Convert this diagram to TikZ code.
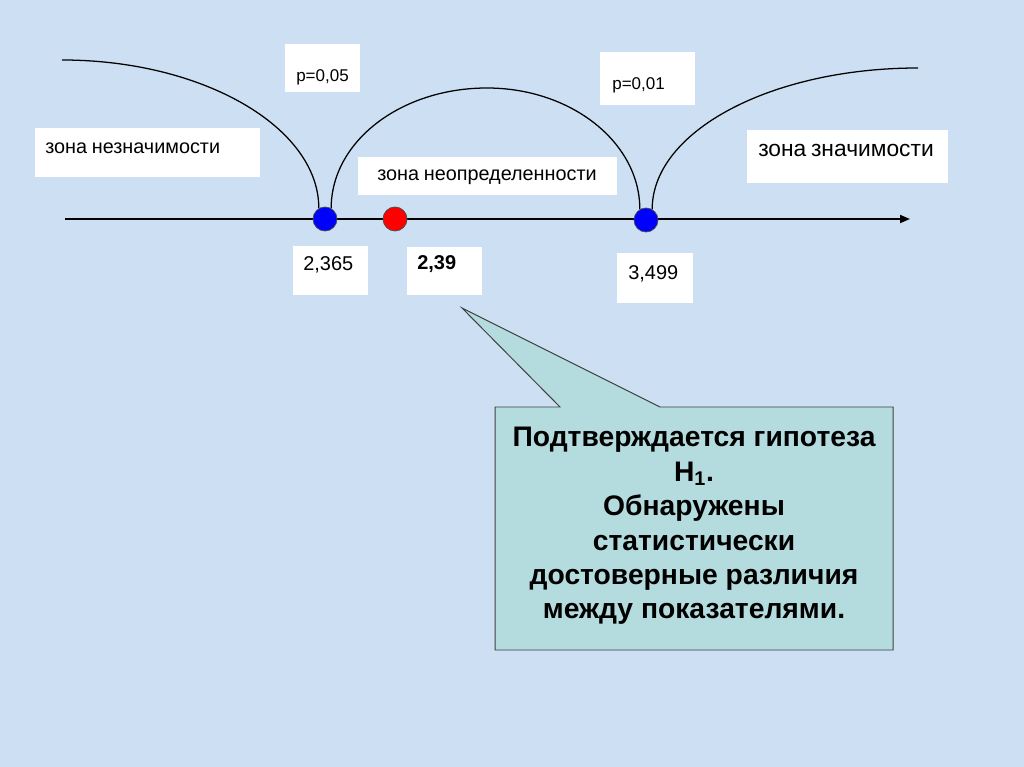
\documentclass[tikz,border=0pt]{standalone}
\usepackage{fontspec}
\setmainfont{Liberation Sans}
\usetikzlibrary{arrows.meta}
\definecolor{bgblue}{RGB}{205,224,243}
\definecolor{callfill}{RGB}{180,220,222}
\newcommand\smallfont{\fontsize{12.1}{14}\selectfont}
\newcommand\zonefont{\fontsize{14.1}{17}\selectfont}
\newcommand\bigzonefont{\fontsize{16.2}{19}\selectfont}
\newcommand\numfont{\fontsize{14.2}{17}\selectfont}
\begin{document}
\begin{tikzpicture}[x=0.025cm,y=-0.025cm,
  lbl/.style={fill=white,anchor=north west,inner ysep=0pt,align=left},
  dot/.style={circle,draw=black!70,fill=#1,minimum size=0.6cm,inner sep=0pt,line width=0.5pt}]
\fill[bgblue] (0,0) rectangle (1024,767);
\useasboundingbox (0,0) rectangle (1024,767);

% axis
\coordinate (axL) at (65,219);
\coordinate (axR) at (910,219);
\draw[line width=1.3pt,-{Triangle[length=0.25cm,width=0.2cm]}] (axL) -- (axR);

\node[dot=blue] (d1) at (325,219) {};
\node[dot=red] (d2) at (395,219) {};
\node[dot=blue] (d3) at (646,220) {};

% zone arcs
\coordinate (c1) at (62,60);
\coordinate (arcTop) at (487,88);
\coordinate (c2) at (918,68);
\draw[line width=0.9pt] (c1) .. controls +(141,0) and +(0,-81) .. (d1.120);
\draw[line width=0.9pt] (d1.60) .. controls +(0,-67) and +(-86,0) .. (arcTop)
  .. controls +(84,0) and +(0,-67) .. (d3.120);
\draw[line width=0.9pt] (d3.60) .. controls +(0,-78) and +(-147,0) .. (c2);

% labels
\node[lbl,inner xsep=0.275cm,text width=1.325cm,text height=0.925cm,text depth=0.275cm] (p05) at (285,44) {\smallfont p=0,05};
\node[lbl,inner xsep=0.3cm,text width=1.775cm,text height=0.925cm,text depth=0.4cm] (p01) at (600,52) {\smallfont p=0,01};
\node[lbl,inner xsep=0.25cm,text width=5.125cm,text height=0.625cm,text depth=0.6cm] (zn1) at (35,128) {\zonefont зона незначимости};
\node[lbl,inner xsep=0.475cm,text width=5.525cm,text height=0.575cm,text depth=0.375cm] (zn2) at (358,157) {\zonefont зона неопределенности};
\node[lbl,inner xsep=0.275cm,text width=4.475cm,text height=0.65cm,text depth=0.675cm] (zn3) at (747,130) {\bigzonefont зона значимости};
\node[lbl,inner xsep=0.25cm,text width=1.375cm,text height=0.6cm,text depth=0.625cm] (n1) at (293,246) {\numfont 2,365};
\node[lbl,inner xsep=0.25cm,text width=1.375cm,text height=0.55cm,text depth=0.65cm] (n2) at (407,247) {\numfont\bfseries 2,39};
\node[lbl,inner xsep=0.275cm,text width=1.35cm,text height=0.65cm,text depth=0.6cm] (n3) at (617,253) {\numfont 3,499};

% callout
\coordinate (tip) at (462,308);
\draw[fill=callfill,draw=black!75,line width=0.7pt] (495,407) -- (560,407) -- (tip) -- (660,407)
  -- (893,407) -- (893,650) -- (495,650) -- cycle;
\node[align=center,font=\fontsize{20.1}{24.5}\selectfont\bfseries] (msg) at (694,526)
  {Подтверждается гипотеза\\ H\textsubscript{1}.\\ Обнаружены\\ статистически\\ достоверные различия\\ между показателями.};
\end{tikzpicture}
\end{document}
